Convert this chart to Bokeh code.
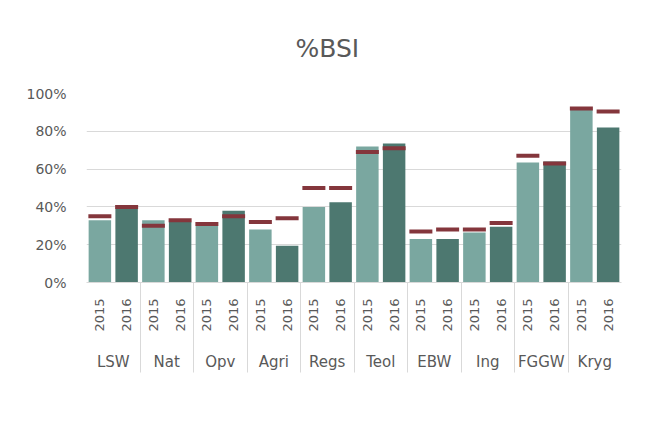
import math
from bokeh.plotting import figure
from bokeh.models import (FactorRange, ColumnDataSource, NumeralTickFormatter,
                          FixedTicker, Legend, LegendItem, CategoricalAxis,
                          CustomJSTickFormatter)
from bokeh.embed import file_html
from bokeh.resources import INLINE

# ---- data ----
groups = ["LSW", "Nat", "Opv", "Agri", "Regs", "Teol", "EBW", "Ing", "FGGW", "Kryg"]
years = ["2015", "2016"]
werklik_2015 = [0.33, 0.33, 0.30, 0.28, 0.40, 0.72, 0.23, 0.265, 0.635, 0.915]
werklik_2016 = [0.39, 0.32, 0.38, 0.195, 0.425, 0.735, 0.23, 0.295, 0.64, 0.82]
teiken_2015 = [0.35, 0.30, 0.31, 0.32, 0.50, 0.69, 0.27, 0.28, 0.67, 0.92]
teiken_2016 = [0.40, 0.33, 0.35, 0.34, 0.50, 0.71, 0.28, 0.315, 0.63, 0.905]
y_ticks = [0, 0.2, 0.4, 0.6, 0.8, 1.0]

LIGHT = "#7AA7A0"
DARK = "#4D7870"
RED = "#84363C"
TXT = "#595959"
GRID = "#D9D9D9"
FONT = "DejaVu Sans"

factors = [(g, y) for g in groups for y in years]
flat = [g + "|" + y for g, y in factors]
# boundaries between groups (one before each group and one after the last)
edges = ["edge:" + g for g in groups] + ["edge:end"]

p = figure(x_range=FactorRange(*factors, factor_padding=0, group_padding=0,
                               subgroup_padding=0, range_padding=0),
           y_range=(0, 1.0), x_axis_location=None,
           frame_width=535, frame_height=189,
           min_border_left=86, min_border_right=22, min_border_top=92,
           min_border_bottom=100,
           output_backend="svg", toolbar_location=None)

p.extra_x_ranges = {
    "sep": FactorRange(*edges, range_padding=-0.5, range_padding_units="absolute"),
    "yrs": FactorRange(*flat, range_padding=0),
    "grp": FactorRange(*groups, range_padding=0),
}

bar_w = 0.84
src15 = ColumnDataSource(dict(x=[(g, "2015") for g in groups], top=werklik_2015))
src16 = ColumnDataSource(dict(x=[(g, "2016") for g in groups], top=werklik_2016))
r15 = p.vbar(x="x", top="top", width=bar_w, source=src15, fill_color=LIGHT, line_color=None)
r16 = p.vbar(x="x", top="top", width=bar_w, source=src16, fill_color=DARK, line_color=None)

half = 0.43
tx0, tx1, ty = [], [], []
for g, t15, t16 in zip(groups, teiken_2015, teiken_2016):
    for yr, t in (("2015", t15), ("2016", t16)):
        tx0.append((g, yr, -half))
        tx1.append((g, yr, half))
        ty.append(t)
tsrc = ColumnDataSource(dict(x0=tx0, x1=tx1, y=ty))
rt = p.segment(x0="x0", y0="y", x1="x1", y1="y", source=tsrc,
               line_color=RED, line_width=4, line_cap="butt")

# title
p.title.text = "%BSI"
p.title.align = "left"
p.title.offset = 209
p.title.text_font = FONT
p.title.text_font_size = "25px"
p.title.text_font_style = "normal"
p.title.text_color = TXT
p.title.standoff = 62

# y axis
p.yaxis.ticker = FixedTicker(ticks=y_ticks)
p.yaxis.formatter = NumeralTickFormatter(format="0%")
p.yaxis.axis_line_color = None
p.yaxis.major_tick_line_color = None
p.yaxis.minor_tick_line_color = None
p.yaxis.major_label_standoff = 14
p.yaxis.major_label_text_font = FONT
p.yaxis.major_label_text_font_size = "14px"
p.yaxis.major_label_text_color = TXT

# separator axis: base line + group separators reaching down through the labels
sep_axis = CategoricalAxis(x_range_name="sep",
                           axis_line_color=GRID, major_tick_line_color=GRID,
                           major_tick_in=-90, major_tick_out=0,
                           formatter=CustomJSTickFormatter(code="return ''"),
                           major_label_text_font_size="1px", major_label_standoff=0)
p.add_layout(sep_axis, "below")

# year labels (read bottom-to-top)
yr_axis = CategoricalAxis(x_range_name="yrs",
                          formatter=CustomJSTickFormatter(code="return tick.split('|')[1]"),
                          axis_line_color=None, major_tick_line_color=None,
                          major_label_orientation=math.pi / 2, major_label_standoff=10,
                          major_label_text_font=FONT, major_label_text_font_size="13px",
                          major_label_text_color=TXT)
p.add_layout(yr_axis, "below")

# group labels
grp_axis = CategoricalAxis(x_range_name="grp",
                           axis_line_color=None, major_tick_line_color=None,
                           major_label_standoff=12,
                           major_label_text_font=FONT, major_label_text_font_size="15px",
                           major_label_text_color=TXT)
p.add_layout(grp_axis, "below")

p.xgrid.grid_line_color = None
p.ygrid.grid_line_color = GRID
p.ygrid.ticker = FixedTicker(ticks=y_ticks)
p.outline_line_color = None

legend = Legend(items=[LegendItem(label="Werklik", renderers=[r15]),
                       LegendItem(label="Teiken", renderers=[rt])],
                orientation="horizontal", location=(146, 0),
                glyph_width=12, glyph_height=12, label_standoff=5, spacing=17,
                label_text_font=FONT, label_text_font_size="16px",
                label_text_color=TXT, border_line_color=None,
                background_fill_alpha=0, padding=0, margin=0)
p.add_layout(legend, "below")

open("out.html", "w").write(file_html(p, INLINE))
